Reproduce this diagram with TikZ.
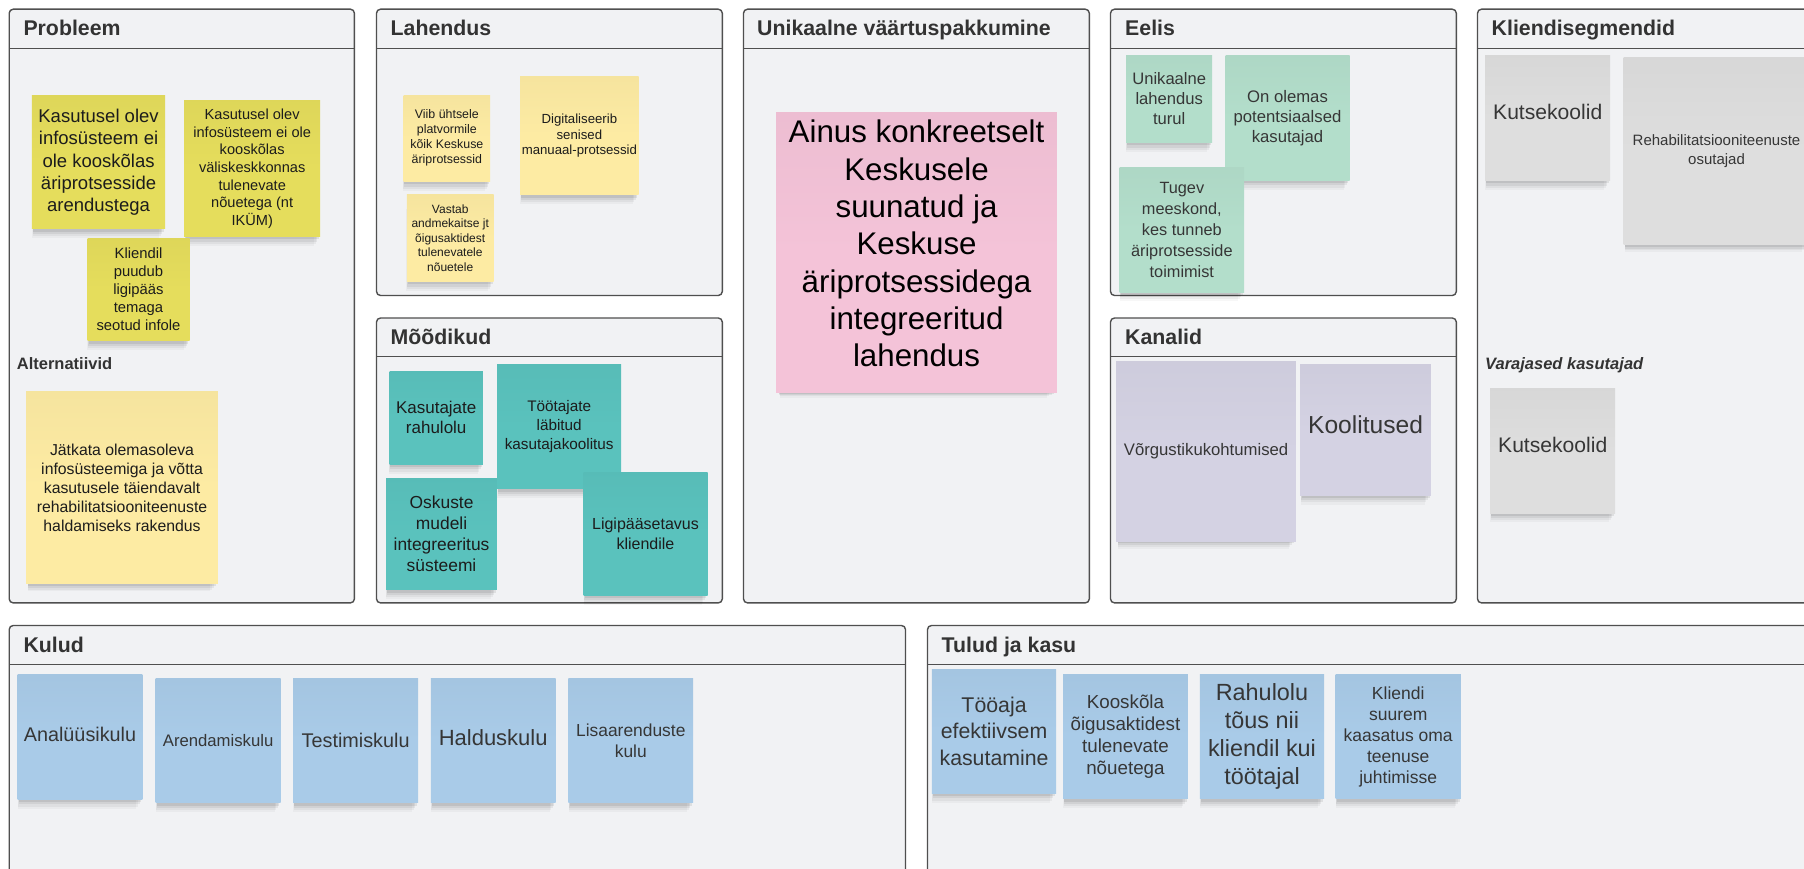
\documentclass[tikz,border=0pt]{standalone}
\usepackage{fontspec}
\setmainfont{Liberation Sans}
\usetikzlibrary{shadows}

\definecolor{panelbg}{HTML}{F1F2F4}
\definecolor{paneledge}{HTML}{4F4F4F}
\definecolor{headink}{HTML}{333333}
\definecolor{ink}{HTML}{1C1C1C}
\definecolor{softink}{HTML}{363636}
\definecolor{noteolive}{HTML}{E5DD5C}
\definecolor{notecream}{HTML}{FDEBA3}
\definecolor{noteteal}{HTML}{5AC2BD}
\definecolor{noterose}{HTML}{F4C3D8}
\definecolor{notemint}{HTML}{B3DECB}
\definecolor{notelilac}{HTML}{D4D2E3}
\definecolor{notesilver}{HTML}{DEDEDE}
\definecolor{notesky}{HTML}{A9CBE8}

\newcommand{\fsz}[2]{\fontsize{#1}{#2}\selectfont}

\begin{document}
\begin{tikzpicture}[x=1pt, y=-1pt,
  panel/.style={draw=paneledge, line width=1.4pt, fill=panelbg, rounded corners=4pt},
  divider/.style={draw=paneledge, line width=1.4pt},
  head/.style={anchor=base west, inner sep=0pt, text=headink, font=\bfseries\fsz{21.3}{25}},
  sublabel/.style={anchor=base west, inner sep=0pt, text=headink, font=\bfseries\fsz{16.5}{20}},
  note/.style={anchor=north west, inner sep=0pt, align=center, text=ink,
    top color=#1!97!black, bottom color=#1, middle color=#1,
    general shadow={fill=black, opacity=0.03, shadow xshift=-3pt, shadow yshift=-13pt, shadow scale=0.95},
    general shadow={fill=black, opacity=0.045, shadow xshift=-2pt, shadow yshift=-10pt, shadow scale=0.96},
    general shadow={fill=black, opacity=0.06, shadow xshift=-1pt, shadow yshift=-7pt, shadow scale=0.97},
    general shadow={fill=black, opacity=0.08, shadow yshift=-4pt, shadow scale=0.98}},
  wh/.style 2 args={minimum width=#1pt, minimum height=#2pt},
]
\clip (0,0) rectangle (1804,869);
\fill[white] (0,0) rectangle (1804,869);

% ---------- panels ----------
\draw[panel] (9.2,9.2) rectangle (354.4,602.9);
\draw[divider] (9.2,48.5) -- (354.4,48.5);
\node[head] (hprob) at (23.3,36) {Probleem};

\draw[panel] (376.5,9.2) rectangle (722.3,295.5);
\draw[divider] (376.5,48.5) -- (722.3,48.5);
\node[head] (hlah) at (390.5,36) {Lahendus};

\draw[panel] (376.5,318) rectangle (722.3,602.9);
\draw[divider] (376.5,356.5) -- (722.3,356.5);
\node[head] (hmoo) at (390.5,344.5) {Mõõdikud};

\draw[panel] (743.5,9.2) rectangle (1089.3,602.9);
\draw[divider] (743.5,48.5) -- (1089.3,48.5);
\node[head] (huvp) at (757,36) {Unikaalne väärtuspakkumine};

\draw[panel] (1110.5,9.2) rectangle (1456.3,295.5);
\draw[divider] (1110.5,48.5) -- (1456.3,48.5);
\node[head] (heel) at (1125,36) {Eelis};

\draw[panel] (1110.5,318) rectangle (1456.3,602.9);
\draw[divider] (1110.5,356.5) -- (1456.3,356.5);
\node[head] (hkan) at (1125,344.5) {Kanalid};

\draw[panel] (1477.5,9.2) rectangle (1840,602.9);
\draw[divider] (1477.5,48.5) -- (1840,48.5);
\node[head] (hkli) at (1491.5,36) {Kliendisegmendid};

\draw[panel] (9.2,625.5) rectangle (905.5,900);
\draw[divider] (9.2,664.5) -- (905.5,664.5);
\node[head] (hkul) at (23.3,652.6) {Kulud};

\draw[panel] (927.5,625.5) rectangle (1840,900);
\draw[divider] (927.5,664.5) -- (1840,664.5);
\node[head] (htul) at (941.5,652.6) {Tulud ja kasu};

% ---------- Probleem ----------
\node[note=noteolive, wh={133.3}{133.5}, font=\fsz{18.5}{22.4}] (p1) at (31.7,95.3)
  {Kasutusel olev\\infosüsteem ei\\ole kooskõlas\\äriprotsesside\\arendustega};
\node[note=noteolive, wh={136}{136.2}, font=\fsz{14.6}{17.7}] (p2) at (184,100.4)
  {Kasutusel olev\\infosüsteem ei ole\\kooskõlas\\väliskeskkonnas\\tulenevate\\nõuetega (nt\\IKÜM)};
\node[note=noteolive, wh={102}{102.5}, font=\fsz{14.8}{17.9}] (p3) at (87.3,238)
  {Kliendil\\puudub\\ligipääs\\temaga\\seotud infole};
\node[sublabel] (alt) at (16.7,369.7) {Alternatiivid};
\node[note=notecream, wh={191.7}{192.7}, font=\fsz{15.8}{19.1}] (p4) at (26,391)
  {Jätkata olemasoleva\\infosüsteemiga ja võtta\\kasutusele täiendavalt\\rehabilitatsiooniteenuste\\haldamiseks rakendus};

% ---------- Lahendus ----------
\node[note=notecream, wh={86.7}{86}, font=\fsz{12.4}{15}] (l1) at (403.3,95)
  {Viib ühtsele\\platvormile\\kõik Keskuse\\äriprotsessid};
\node[note=notecream, wh={86.6}{86.4}, font=\fsz{12}{14.4}] (l2) at (406.7,194.6)
  {Vastab\\andmekaitse jt\\õigusaktidest\\tulenevatele\\nõuetele};
\node[note=notecream, wh={118.3}{118.3}, font=\fsz{13.2}{15.6}] (l3) at (520,76.3)
  {Digitaliseerib\\senised\\manuaal-protsessid};

% ---------- Mõõdikud ----------
\node[note=noteteal, wh={93.4}{93}, font=\fsz{17}{20.6}] (m1) at (389.3,370.8)
  {Kasutajate\\rahulolu};
\node[note=noteteal, wh={124}{124.1}, font=\fsz{15.3}{19.1}] (m2) at (497,364.6)
  {Töötajate\\läbitud\\kasutajakoolitus};
\node[note=noteteal, wh={110.7}{110.9}, font=\fsz{17.4}{21}] (m3) at (386,478.6)
  {Oskuste\\mudeli\\integreeritus\\süsteemi};
\node[note=noteteal, wh={124}{123.3}, font=\fsz{16}{19.5}] (m4) at (583.3,472)
  {Ligipääsetavus\\kliendile};

% ---------- Unikaalne väärtuspakkumine ----------
\node[note=noterose, wh={280.7}{279.7}, text=black, text depth=18pt, font=\fsz{31.3}{37.3}] (u1) at (776,112.5)
  {Ainus konkreetselt\\Keskusele\\suunatud ja\\Keskuse\\äriprotsessidega\\integreeritud\\lahendus};

% ---------- Eelis ----------
\node[note=notemint, wh={86}{86.4}, text=softink, font=\fsz{16.6}{20}] (e1) at (1126,55.6)
  {Unikaalne\\lahendus\\turul};
\node[note=notemint, wh={124}{124.6}, text=softink, font=\fsz{16.7}{20.2}] (e2) at (1225.3,55.6)
  {On olemas\\potentsiaalsed\\kasutajad};
\node[note=notemint, wh={124.7}{124.5}, text=softink, font=\fsz{16.3}{21}] (e3) at (1119.3,167.3)
  {Tugev\\meeskond,\\kes tunneb\\äriprotsesside\\toimimist};

% ---------- Kanalid ----------
\node[note=notelilac, wh={179.7}{179.9}, text=softink, font=\fsz{16.7}{20}] (k1) at (1116,361)
  {Võrgustikukohtumised};
\node[note=notelilac, wh={130.7}{130.7}, text=softink, text depth=11pt, font=\fsz{24.6}{29}] (k2) at (1300,364.6)
  {Koolitused};

% ---------- Kliendisegmendid ----------
\node[note=notesilver, wh={125}{124.9}, text=softink, text depth=13pt, font=\fsz{21.1}{25}] (c1) at (1485,55.6)
  {Kutsekoolid};
\node[note=notesilver, wh={186}{187.2}, text=softink, font=\fsz{15}{18.3}] (c2) at (1623.3,57.2)
  {Rehabilitatsiooniteenuste\\osutajad};
\node[sublabel, font=\bfseries\itshape\fsz{16.5}{20}] (early) at (1485,369.7) {Varajased kasutajad};
\node[note=notesilver, wh={125}{124.5}, text=softink, text depth=11pt, font=\fsz{21.1}{25}] (c3) at (1490,388.3)
  {Kutsekoolid};

% ---------- Kulud ----------
\node[note=notesky, wh={124.8}{125}, text=softink, text depth=6pt, font=\fsz{19.8}{23}] (a1) at (17.4,674.3)
  {Analüüsikulu};
\node[note=notesky, wh={124.8}{124.4}, text=softink, font=\fsz{16.7}{20}] (a2) at (155.5,678.3)
  {Arendamiskulu};
\node[note=notesky, wh={124.8}{124.4}, text=softink, font=\fsz{19.8}{23}] (a3) at (293,678.3)
  {Testimiskulu};
\node[note=notesky, wh={124.8}{124.4}, text=softink, text depth=7pt, font=\fsz{22}{26}] (a4) at (430.6,678.3)
  {Halduskulu};
\node[note=notesky, wh={124.8}{124.4}, text=softink, font=\fsz{17.4}{20.3}] (a5) at (568.2,678.3)
  {Lisaarenduste\\kulu};

% ---------- Tulud ja kasu ----------
\node[note=notesky, wh={124.3}{124.3}, text=softink, font=\fsz{21.3}{26.2}] (t1) at (931.7,669)
  {Tööaja\\efektiivsem\\kasutamine};
\node[note=notesky, wh={124.9}{124.4}, text=softink, font=\fsz{18.8}{22.2}] (t2) at (1062.8,674.3)
  {Kooskõla\\õigusaktidest\\tulenevate\\nõuetega};
\node[note=notesky, wh={124.4}{124.4}, text=softink, font=\fsz{23.4}{28}] (t3) at (1199.6,674.3)
  {Rahulolu\\tõus nii\\kliendil kui\\töötajal};
\node[note=notesky, wh={125.4}{124.4}, text=softink, font=\fsz{17.5}{21}] (t4) at (1335.3,674.3)
  {Kliendi\\suurem\\kaasatus oma\\teenuse\\juhtimisse};
\end{tikzpicture}
\end{document}
